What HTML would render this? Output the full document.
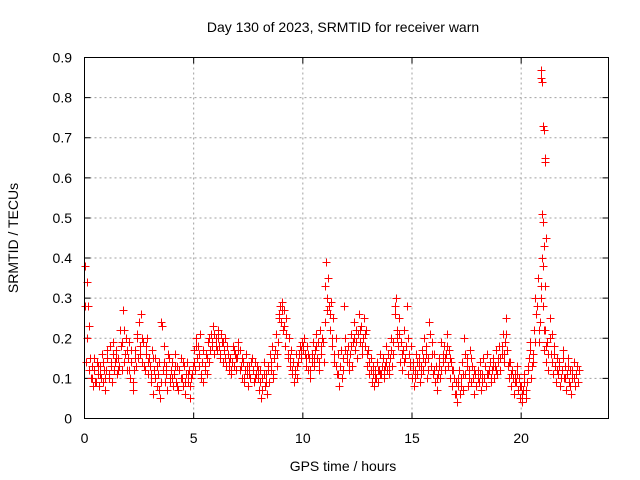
<!DOCTYPE html>
<html><head><meta charset="utf-8"><style>
html,body{margin:0;padding:0;background:#fff;}
svg{display:block;font-family:"Liberation Sans",sans-serif;}
</style></head><body>
<svg id="chart" width="640" height="480">
<text x="343" y="32" font-size="14" text-anchor="middle">Day 130 of 2023, SRMTID for receiver warn</text>
<text x="343" y="471" font-size="14" text-anchor="middle">GPS time / hours</text>
<text x="0" y="0" font-size="14" text-anchor="middle" transform="translate(18,238) rotate(-90)">SRMTID / TECUs</text>
<g id="grid"></g>
<g id="ticks"></g>
<g id="points" shape-rendering="crispEdges"></g>
<rect x="84.5" y="57.5" width="524" height="361" fill="none" stroke="#000" stroke-width="1"/>
</svg>
<script>
const xTicks=[0,5,10,15,20];
const yTicks=[0,0.1,0.2,0.3,0.4,0.5,0.6,0.7,0.8,0.9];
const yTickLabels=["0","0.1","0.2","0.3","0.4","0.5","0.6","0.7","0.8","0.9"];
const tStart=0, tStep=0.05;
const values=[
0.38,0.14,0.34,0.28,0.23,0.15,0.10,0.13,0.08,0.12,0.09,0.14,0.11,0.08,0.13,0.10,0.16,0.09,0.12,0.07,
0.12,0.15,0.10,0.18,0.13,0.09,0.16,0.12,0.14,0.17,0.11,0.15,0.13,0.18,0.12,0.27,0.22,0.16,0.20,0.12,
0.15,0.19,0.10,0.14,0.07,0.12,0.17,0.13,0.20,0.15,0.24,0.18,0.26,0.14,0.19,0.12,0.16,0.20,0.11,0.15,
0.13,0.09,0.17,0.06,0.12,0.15,0.08,0.11,0.14,0.05,0.24,0.23,0.12,0.18,0.09,0.13,0.07,0.15,0.10,0.12,
0.14,0.08,0.11,0.16,0.09,0.13,0.07,0.12,0.15,0.10,0.08,0.13,0.06,0.11,0.14,0.09,0.12,0.05,0.10,0.13,
0.17,0.12,0.20,0.15,0.18,0.13,0.21,0.10,0.14,0.09,0.12,0.16,0.11,0.19,0.14,0.17,0.21,0.19,0.23,0.16,
0.20,0.17,0.22,0.18,0.15,0.21,0.19,0.14,0.17,0.20,0.13,0.16,0.12,0.15,0.11,0.14,0.18,0.13,0.16,0.12,
0.15,0.19,0.17,0.13,0.10,0.14,0.09,0.12,0.16,0.11,0.08,0.13,0.10,0.15,0.12,0.09,0.14,0.11,0.13,0.10,
0.07,0.12,0.05,0.10,0.14,0.08,0.11,0.06,0.13,0.09,0.16,0.12,0.18,0.10,0.15,0.21,0.13,0.19,0.25,0.28,
0.24,0.29,0.22,0.27,0.18,0.25,0.16,0.20,0.13,0.17,0.11,0.14,0.09,0.12,0.16,0.10,0.14,0.18,0.15,0.19,
0.17,0.20,0.16,0.13,0.18,0.12,0.15,0.10,0.14,0.19,0.13,0.17,0.21,0.15,0.19,0.12,0.22,0.16,0.20,0.14,
0.24,0.39,0.30,0.35,0.28,0.22,0.29,0.18,0.25,0.14,0.20,0.11,0.16,0.08,0.13,0.17,0.10,0.15,0.28,0.20,
0.14,0.18,0.12,0.16,0.21,0.13,0.19,0.24,0.17,0.22,0.15,0.26,0.19,0.23,0.16,0.20,0.25,0.18,0.22,0.13,
0.17,0.11,0.15,0.09,0.13,0.08,0.12,0.10,0.14,0.09,0.12,0.16,0.11,0.15,0.10,0.13,0.18,0.12,0.16,0.11,
0.15,0.20,0.13,0.19,0.26,0.30,0.22,0.18,0.25,0.14,0.19,0.12,0.17,0.22,0.15,0.28,0.11,0.16,0.13,0.18,
0.10,0.14,0.08,0.12,0.16,0.11,0.15,0.09,0.13,0.17,0.12,0.20,0.14,0.18,0.10,0.15,0.24,0.13,0.19,0.11,
0.16,0.09,0.13,0.07,0.11,0.15,0.10,0.19,0.14,0.18,0.12,0.16,0.21,0.13,0.17,0.10,0.14,0.08,0.12,0.06,
0.09,0.04,0.08,0.12,0.06,0.10,0.14,0.07,0.20,0.11,0.15,0.08,0.12,0.17,0.09,0.13,0.10,0.06,0.11,0.08,
0.12,0.09,0.14,0.07,0.11,0.15,0.10,0.13,0.08,0.16,0.11,0.14,0.09,0.12,0.15,0.10,0.13,0.17,0.11,0.14,
0.18,0.12,0.16,0.21,0.14,0.19,0.25,0.17,0.13,0.10,0.14,0.08,0.12,0.06,0.11,0.09,0.13,0.07,0.10,0.05,
0.08,0.04,0.07,0.11,0.05,0.09,0.12,0.15,0.19,0.10,0.13,0.16,0.22,0.30,0.26,0.35,0.19,0.24,0.33,0.40,
0.28,0.17,0.22,0.14,0.19,0.12,0.25,0.16,0.21,0.11,0.18,0.13,0.09,0.15,0.11,0.14,0.08,0.12,0.17,0.10,
0.13,0.07,0.11,0.15,0.09,0.12,0.06,0.10,0.14,0.08,0.11,0.13,0.09,0.12];
const t2Start=0.025, t2Step=0.1;
const values2=[
0.28,0.20,0.12,0.10,0.15,0.09,0.13,0.11,0.14,0.10,
0.17,0.11,0.14,0.19,0.15,0.12,0.22,0.19,0.14,0.17,
0.12,0.17,0.09,0.15,0.21,0.16,0.20,0.13,0.18,0.14,
0.11,0.15,0.10,0.13,0.07,0.09,0.14,0.11,0.16,0.09,
0.10,0.13,0.08,0.12,0.10,0.14,0.09,0.11,0.08,0.11,
0.14,0.18,0.16,0.11,0.17,0.13,0.15,0.20,0.18,0.21,
0.18,0.20,0.16,0.19,0.15,0.18,0.14,0.12,0.17,0.15,
0.17,0.12,0.15,0.10,0.13,0.11,0.14,0.12,0.10,0.12,
0.09,0.07,0.11,0.09,0.12,0.14,0.11,0.17,0.16,0.26,
0.27,0.23,0.21,0.15,0.15,0.12,0.11,0.13,0.16,0.17,
0.18,0.15,0.16,0.12,0.16,0.15,0.18,0.14,0.18,0.19,
0.33,0.27,0.26,0.20,0.16,0.13,0.11,0.13,0.12,0.17,
0.16,0.14,0.18,0.20,0.19,0.21,0.22,0.18,0.21,0.16,
0.14,0.12,0.11,0.10,0.12,0.11,0.13,0.12,0.14,0.13,
0.17,0.16,0.28,0.20,0.21,0.16,0.14,0.18,0.20,0.14,
0.12,0.10,0.14,0.13,0.11,0.15,0.16,0.12,0.21,0.16,
0.12,0.10,0.13,0.12,0.16,0.15,0.18,0.15,0.12,0.10,
0.06,0.10,0.08,0.11,0.16,0.13,0.10,0.15,0.12,0.08,
0.10,0.11,0.09,0.13,0.11,0.12,0.10,0.13,0.12,0.15,
0.15,0.18,0.16,0.21,0.14,0.11,0.10,0.09,0.11,0.08,
0.06,0.09,0.07,0.13,0.17,0.14,0.19,0.28,0.22,0.30,
0.22,0.18,0.16,0.20,0.14,0.16,0.12,0.13,0.10,0.15,
0.10,0.13,0.08,0.12,0.10,0.11,0.09];
const spikeTimes=[20.9,20.92,20.95,20.97,21.0,21.02,21.05,21.07,21.1,21.12,21.0,21.05,20.93,21.08];
const spikeValues=[0.87,0.85,0.84,0.51,0.49,0.73,0.72,0.64,0.65,0.45,0.38,0.43,0.30,0.33];
const X0=84.5,X1=608.5,Y0=418.5,Y1=57.5,XMAX=24,YMAX=0.9;
function xs(t){return X0+(X1-X0)*t/XMAX;}
function ys(v){return Y0-(Y0-Y1)*v/YMAX;}
const NS="http://www.w3.org/2000/svg";
const grid=document.getElementById('grid'),ticks=document.getElementById('ticks'),pts=document.getElementById('points');
function mk(tag,attrs,parent){const e=document.createElementNS(NS,tag);for(const k in attrs)e.setAttribute(k,attrs[k]);parent.appendChild(e);return e;}
xTicks.forEach(t=>{
 const x=xs(t);
 if(t>0){const g=mk('line',{x1:x,x2:x,y1:Y1,y2:Y0,stroke:'#a0a0a0','stroke-dasharray':'2,3'},grid);
 
 }
 const tk=mk('path',{d:`M${x},${Y0}v-6M${x},${Y1}v6`,stroke:'#000'},ticks);
 
 
 const lb=mk('text',{x:x,y:443,'font-size':14,'text-anchor':'middle'},ticks);lb.textContent=String(t);
 
 
});
yTicks.forEach((v,i)=>{
 const y=ys(v);
 if(v>0&&v<YMAX){const g=mk('line',{x1:X0,x2:X1,y1:y,y2:y,stroke:'#a0a0a0','stroke-dasharray':'2,3'},grid);
 
 }
 const tk=mk('path',{d:`M${X0},${y}h6M${X1},${y}h-6`,stroke:'#000'},ticks);
 
 
 const lb=mk('text',{x:72,y:y+5,'font-size':14,'text-anchor':'end'},ticks);lb.textContent=yTickLabels[i];
 
 
});
function cross(t,v){
 const x=Math.round(xs(t))+0.5,y=Math.round(ys(v))+0.5;
 const p=mk('path',{d:`M${x-4},${y}h8M${x},${y-4}v8`,stroke:'#ff0000','stroke-width':1},pts);
 
 
}
values.forEach((v,i)=>cross(tStart+i*tStep,v));
values2.forEach((v,i)=>cross(t2Start+i*t2Step,v));
spikeTimes.forEach((t,i)=>cross(t,spikeValues[i]));
</script>
</body></html>
